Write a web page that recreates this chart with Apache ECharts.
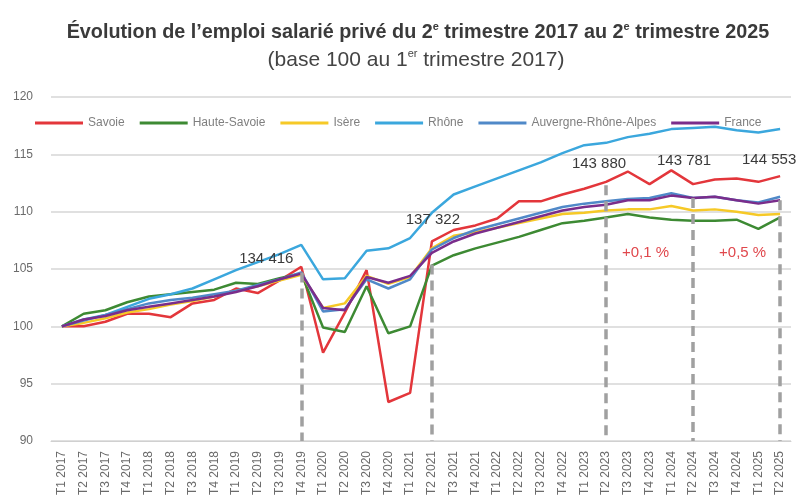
<!DOCTYPE html>
<html>
<head>
<meta charset="utf-8">
<script src="https://cdn.jsdelivr.net/npm/echarts@6/dist/echarts.min.js"></script>
<style>
  html, body { margin: 0; padding: 0; background: #fff; }
  #chart { width: 796px; height: 499px; }
</style>
</head>
<body>
<div id="chart"></div>
<script type="text/javascript">
// trimestres
var categories = ['T1 2017','T2 2017','T3 2017','T4 2017',
  'T1 2018','T2 2018','T3 2018','T4 2018',
  'T1 2019','T2 2019','T3 2019','T4 2019',
  'T1 2020','T2 2020','T3 2020','T4 2020',
  'T1 2021','T2 2021','T3 2021','T4 2021',
  'T1 2022','T2 2022','T3 2022','T4 2022',
  'T1 2023','T2 2023','T3 2023','T4 2023',
  'T1 2024','T2 2024','T3 2024','T4 2024',
  'T1 2025','T2 2025'];

// base 100 au T1 2017
var savoie = [100, 100.0, 100.4, 101.1, 101.1, 100.8, 102.0, 102.3, 103.3, 102.9, 104.0, 105.2,
  97.7, 101.2, 104.9, 93.4, 94.2, 107.4, 108.4, 108.8, 109.4, 110.9, 110.9, 111.5,
  112.0, 112.6, 113.5, 112.4, 113.6, 112.4, 112.8, 112.9, 112.6, 113.1];
var hauteSavoie = [100, 101.1, 101.4, 102.1, 102.6, 102.8, 103.0, 103.2, 103.8, 103.7, 104.2, 104.6,
  99.9, 99.5, 103.5, 99.4, 100.0, 105.3, 106.2, 106.8, 107.3, 107.8, 108.4, 109.0,
  109.2, 109.5, 109.8, 109.5, 109.3, 109.2, 109.2, 109.3, 108.5, 109.5];
var isere = [100, 100.3, 100.7, 101.2, 101.5, 101.9, 102.2, 102.6, 103.1, 103.5, 104.0, 104.5,
  101.6, 102.0, 104.4, 103.7, 104.3, 106.8, 107.9, 108.2, 108.6, 109.0, 109.4, 109.8,
  109.9, 110.1, 110.2, 110.2, 110.5, 110.1, 110.2, 110.0, 109.7, 109.8];
var rhone = [100, 100.6, 101.0, 101.7, 102.4, 102.8, 103.3, 104.1, 104.9, 105.6, 106.3, 107.1,
  104.1, 104.2, 106.6, 106.8, 107.7, 109.9, 111.5, 112.2, 112.9, 113.6, 114.3, 115.1,
  115.8, 116.0, 116.5, 116.8, 117.2, 117.3, 117.4, 117.1, 116.9, 117.2];
var ara = [100, 100.5, 101.0, 101.5, 102.0, 102.3, 102.5, 102.8, 103.1, 103.6, 104.1, 104.7,
  101.3, 101.5, 104.1, 103.3, 104.1, 106.7, 107.7, 108.4, 108.9, 109.4, 109.9, 110.4,
  110.7, 110.9, 111.1, 111.2, 111.6, 111.2, 111.3, 111.0, 110.8, 111.3];
var france = [100, 100.6, 100.9, 101.4, 101.7, 102.0, 102.3, 102.6, 103.0, 103.5, 104.1, 104.6,
  101.6, 101.4, 104.3, 103.8, 104.4, 106.4, 107.4, 108.1, 108.6, 109.1, 109.6, 110.1,
  110.4, 110.6, 111.0, 111.0, 111.4, 111.2, 111.3, 111.0, 110.7, 111.0];

// effectifs salariés de Savoie aux trimestres repères
var effCats = ['T4 2019', 'T2 2021', 'T2 2023', 'T2 2024', 'T2 2025'];
var effLabels = ['134 416', '137 322', '143 880', '143 781', '144 553'];
var effY = [105.9, 109.3, 114.2, 114.4, 114.5];
var dashTop = [104.7, 105.4, 112.3, 111.2, 111.0];

// évolutions annuelles
var evolCats = ['T4 2023', 'T4 2024'];
var evolLabels = ['+0,1 %', '+0,5 %'];
var evolY = [106.4, 106.4];

var yTicks = [90, 95, 100, 105, 110, 115, 120];

var myChart = echarts.init(document.getElementById('chart'));

var effOffsets = [[-35, 0], [1, 0], [-7, 0], [-9, 0], [-11, 0]];
var evolOffsets = [[-4, 0], [6, 0]];

var markPts = [];
effCats.forEach(function (c, i) {
  markPts.push({
    coord: [c, effY[i]],
    label: { formatter: effLabels[i], offset: effOffsets[i], color: '#3a3a3a', fontSize: 15 }
  });
});
evolCats.forEach(function (c, i) {
  markPts.push({
    coord: [c, evolY[i]],
    label: { formatter: evolLabels[i], offset: evolOffsets[i], color: '#e0474c', fontSize: 15 }
  });
});

// pointillés du repère jusqu'à l'axe
var markLns = effCats.map(function (c, i) {
  return [{ coord: [c, dashTop[i]] }, { coord: [c, yTicks[0]] }];
});

function serie(name, data, color) {
  return {
    name: name,
    type: 'line',
    data: data,
    symbol: 'none',
    lineStyle: { width: 2.5, color: color },
    itemStyle: { color: color }
  };
}

var series = [
  serie('Savoie', savoie, '#e3363b'),
  serie('Haute-Savoie', hauteSavoie, '#3d8a33'),
  serie('Isère', isere, '#f6c927'),
  serie('Rhône', rhone, '#3ba7dd'),
  serie('Auvergne-Rhône-Alpes', ara, '#5089c8'),
  serie('France', france, '#7a2d8b')
];
// repères (pointillés + étiquettes) posés sur la série Savoie
series[0].z = 3;
series[0].markLine = {
  silent: true,
  symbol: ['none', 'none'],
  lineStyle: { type: [10, 6], color: '#a0a0a0', width: 3.5 },
  emphasis: { disabled: true },
  label: { show: false },
  data: markLns
};
series[0].markPoint = {
  silent: true,
  symbol: 'circle',
  symbolSize: 0,
  label: { show: true, position: 'inside', fontFamily: 'Liberation Sans' },
  data: markPts
};

option = {
  animation: false,
  backgroundColor: '#ffffff',
  textStyle: { fontFamily: 'Liberation Sans' },
  title: [{
    text: 'Évolution de l\u2019emploi salarié privé du 2{sup|e} trimestre 2017 au 2{sup|e} trimestre 2025',
    left: 413,
    top: 16,
    textAlign: 'center',
    textStyle: {
      fontSize: 19.8, fontWeight: 'bold', color: '#3a3a3a', lineHeight: 24,
      rich: {
        sup: { fontSize: 11, fontWeight: 'bold', color: '#3a3a3a', verticalAlign: 'top', lineHeight: 24 }
      }
    }
  }, {
    text: '(base 100 au 1{sup|er} trimestre 2017)',
    left: 411,
    top: 43,
    textAlign: 'center',
    textStyle: {
      fontSize: 21, fontWeight: 'normal', color: '#444444', lineHeight: 24,
      rich: {
        sup: { fontSize: 11, color: '#444444', verticalAlign: 'top', lineHeight: 24 }
      }
    }
  }],
  legend: {
    left: 30,
    top: 112,
    icon: 'rect',
    itemWidth: 48,
    itemHeight: 3,
    itemGap: 15,
    textStyle: { color: '#7f7f7f', fontSize: 12 },
    data: ['Savoie', 'Haute-Savoie', 'Isère', 'Rhône', 'Auvergne-Rhône-Alpes', 'France']
  },
  grid: { left: 51, right: 5, top: 97, bottom: 58 },
  xAxis: {
    type: 'category',
    data: categories,
    boundaryGap: true,
    axisLine: { lineStyle: { color: '#d0d0d0', width: 1 } },
    axisTick: { show: false },
    axisLabel: { interval: 0, rotate: 90, color: '#6b6b6b', fontSize: 12, margin: 10 }
  },
  yAxis: {
    type: 'value',
    min: yTicks[0],
    max: yTicks[yTicks.length - 1],
    interval: 5,
    axisLine: { show: false },
    axisTick: { show: false },
    axisLabel: { color: '#6b6b6b', fontSize: 12, margin: 18 },
    splitLine: { lineStyle: { color: '#d6d6d6', width: 1.5 } }
  },
  series: series
};

myChart.setOption(option);
</script>
</body>
</html>
